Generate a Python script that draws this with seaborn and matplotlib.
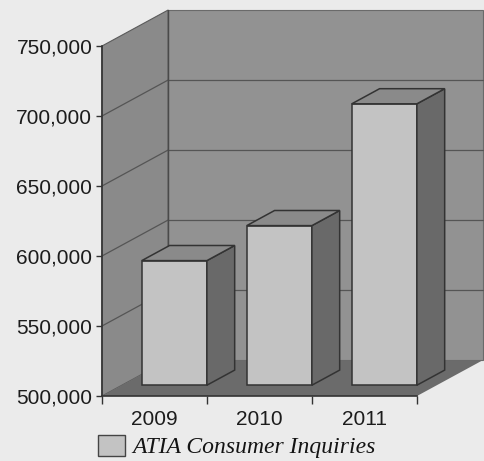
import pandas as pd
import seaborn as sns
import matplotlib.pyplot as plt
from matplotlib.patches import Polygon

# data
years = ["2009", "2010", "2011"]
inquiries = [589000, 614000, 701000]
yticks = [500000, 550000, 600000, 650000, 700000, 750000]
legend_label = "ATIA Consumer Inquiries"

df = pd.DataFrame({"year": years, "inquiries": inquiries})

sns.set_theme(style="white")
plt.rcParams["font.family"] = ["Liberation Sans", "DejaVu Sans"]

paper = "#ebebeb"
fig = plt.figure(figsize=(4.84, 4.61), dpi=100, facecolor=paper)
ax = fig.add_axes([102 / 484, 65 / 461, 315 / 484, 350 / 461])
ax.set_facecolor("none")

sns.barplot(data=df, x="year", y="inquiries", ax=ax, width=0.62,
            color="#c3c3c3", saturation=1, edgecolor="#333333", linewidth=1.1,
            label=legend_label)

ymin, ymax = yticks[0], yticks[-1]
x0, x1 = -0.5, len(years) - 0.5
ax.set_xlim(x0, x1)
ax.set_ylim(ymin, ymax)

# oblique depth of the 3d box, in data units
ddx = 0.63
ddy = 25700
front = 0.3   # where the bars start in depth
depth = 0.42  # bar depth

def poly(pts, fc, z, ec="none", lw=0):
    ax.add_patch(Polygon(pts, closed=True, facecolor=fc, edgecolor=ec,
                         linewidth=lw, zorder=z, clip_on=False))

# walls and floor
poly([(x0, ymin), (x0 + ddx, ymin + ddy), (x0 + ddx, ymax + ddy), (x0, ymax)],
     "#8a8a8a", 0.1, "#5a5a5a", 0.8)
poly([(x0 + ddx, ymin + ddy), (x1 + ddx, ymin + ddy), (x1 + ddx, ymax + ddy), (x0 + ddx, ymax + ddy)],
     "#929292", 0.1, "#6a6a6a", 0.8)
for t in yticks[1:-1]:
    ax.plot([x0, x0 + ddx], [t, t + ddy], color="#555555", lw=0.9, zorder=0.2, clip_on=False)
    ax.plot([x0 + ddx, x1 + ddx], [t + ddy, t + ddy], color="#555555", lw=0.9, zorder=0.2, clip_on=False)
ax.plot([x0 + ddx, x0 + ddx], [ymin + ddy, ymax + ddy], color="#4a4a4a", lw=1, zorder=0.2, clip_on=False)
poly([(x0, ymin), (x1, ymin), (x1 + ddx, ymin + ddy), (x0 + ddx, ymin + ddy)],
     "#6b6b6b", 0.3)

# turn the flat bars into boxes
for p, v in zip(ax.patches, inquiries):
    if not hasattr(p, "get_width") or p.get_width() > 1:
        continue
    w = p.get_width()
    bx = p.get_x() + front * ddx
    by = ymin + front * ddy
    top = v + front * ddy
    p.set_x(bx)
    p.set_y(by)
    p.set_height(v - ymin)
    p.set_zorder(3)
    p.set_clip_on(False)
    sx, sy = depth * ddx, depth * ddy
    poly([(bx + w, by), (bx + w + sx, by + sy), (bx + w + sx, top + sy), (bx + w, top)],
         "#696969", 3, "#333333", 1.1)
    poly([(bx, top), (bx + w, top), (bx + w + sx, top + sy), (bx + sx, top + sy)],
         "#8a8a8a", 3, "#333333", 1.1)

# axes and ticks
sns.despine(ax=ax, top=True, right=True)
for s in ["left", "bottom"]:
    ax.spines[s].set_color("#333333")
    ax.spines[s].set_linewidth(1.2)
    ax.spines[s].set_zorder(4)
ax.set_yticks(yticks)
ax.set_yticklabels([f"{t:,}" for t in yticks])
ax.set_xticks(range(len(years)))
ax.set_xticklabels(years)
ax.set_xticks([x0 + i for i in range(len(years) + 1)], minor=True)
ax.tick_params(axis="y", which="major", left=True, length=4, width=1, color="#333333",
               direction="out", pad=3, labelsize=15, labelcolor="#1c1c1c")
ax.tick_params(axis="x", which="major", bottom=False, length=0, pad=10,
               labelsize=15, labelcolor="#1c1c1c")
ax.tick_params(axis="x", which="minor", bottom=True, length=6, width=1, color="#333333",
               direction="out")
ax.set_xlabel("")
ax.set_ylabel("")

leg = ax.legend(loc="upper left", bbox_to_anchor=(93 / 484, 1 - 430 / 461),
                bbox_transform=fig.transFigure, frameon=False,
                prop={"family": "Liberation Serif", "style": "italic", "size": 17},
                handlelength=1.15, handleheight=1.0, handletextpad=0.3,
                borderaxespad=0, borderpad=0.2, labelcolor="#141414")
for h in leg.legend_handles:
    h.set_edgecolor("#444444")
    h.set_linewidth(1)

fig.savefig("out.png", dpi=100, facecolor=paper)
